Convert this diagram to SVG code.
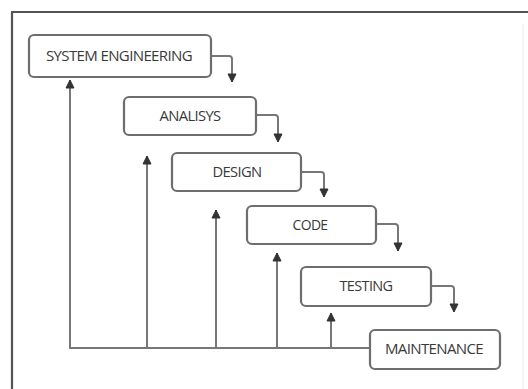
<svg xmlns="http://www.w3.org/2000/svg" width="528" height="389" viewBox="0 0 528 389">
<style>
.box{fill:#fff;stroke:#6e6e6e;stroke-width:2.2}
.lbl{font-family:"Open Sans","Liberation Sans",sans-serif;font-size:14px;fill:#3a3a3a;text-anchor:middle;letter-spacing:-0.6px}
.ln{fill:none;stroke:#777;stroke-width:2;stroke-linejoin:round}
</style>
<defs>
<marker id="ah" markerUnits="userSpaceOnUse" markerWidth="10" markerHeight="10" viewBox="0 0 10 10" refX="9" refY="5" orient="auto">
<path d="M1,1 L9,5 L1,9 Z" fill="#333" stroke="#333" stroke-width="1" stroke-linejoin="round"/>
</marker>
</defs>
<rect width="528" height="389" fill="#fff"/>
<g id="frame">
<line x1="12" y1="389" x2="12" y2="12" stroke="#555" stroke-width="2.2"/>
<line x1="11" y1="12" x2="528" y2="12" stroke="#555" stroke-width="2.2"/>
<line x1="523" y1="24" x2="523" y2="389" stroke="#eee" stroke-width="1.2"/>
</g>
<g id="connectors">
<path class="ln" d="M211,56 H229 Q232,56 232,59 V82" marker-end="url(#ah)"/>
<path class="ln" d="M256,115 H275 Q278,115 278,118 V142" marker-end="url(#ah)"/>
<path class="ln" d="M301,172 H321 Q324,172 324,175 V197" marker-end="url(#ah)"/>
<path class="ln" d="M376,224 H395 Q398,224 398,227 V251" marker-end="url(#ah)"/>
<path class="ln" d="M431,286 H451 Q454,286 454,289 V312" marker-end="url(#ah)"/>
<path class="ln" d="M370,348 H70 V80" marker-end="url(#ah)"/>
<path class="ln" d="M147,348 V156" marker-end="url(#ah)"/>
<path class="ln" d="M216,348 V210" marker-end="url(#ah)"/>
<path class="ln" d="M277,348 V253" marker-end="url(#ah)"/>
<path class="ln" d="M331,348 V313" marker-end="url(#ah)"/>
</g>
<g id="system-engineering">
<rect class="box" x="29" y="35" width="182" height="42" rx="5"/>
<text class="lbl" x="119" y="61" textLength="146" lengthAdjust="spacingAndGlyphs">SYSTEM ENGINEERING</text>
</g>
<g id="analisys">
<rect class="box" x="124" y="97" width="132" height="38" rx="5"/>
<text class="lbl" x="190" y="121" textLength="61" lengthAdjust="spacingAndGlyphs">ANALISYS</text>
</g>
<g id="design">
<rect class="box" x="172" y="153" width="129" height="38" rx="5"/>
<text class="lbl" x="237" y="177" textLength="49" lengthAdjust="spacingAndGlyphs">DESIGN</text>
</g>
<g id="code">
<rect class="box" x="247" y="206" width="129" height="38" rx="5"/>
<text class="lbl" x="310" y="230" textLength="35" lengthAdjust="spacingAndGlyphs">CODE</text>
</g>
<g id="testing">
<rect class="box" x="301" y="267" width="130" height="39" rx="5"/>
<text class="lbl" x="366" y="291" textLength="53" lengthAdjust="spacingAndGlyphs">TESTING</text>
</g>
<g id="maintenance">
<rect class="box" x="370" y="330" width="130" height="39" rx="5"/>
<text class="lbl" x="434" y="354" textLength="98" lengthAdjust="spacingAndGlyphs">MAINTENANCE</text>
</g>
</svg>
